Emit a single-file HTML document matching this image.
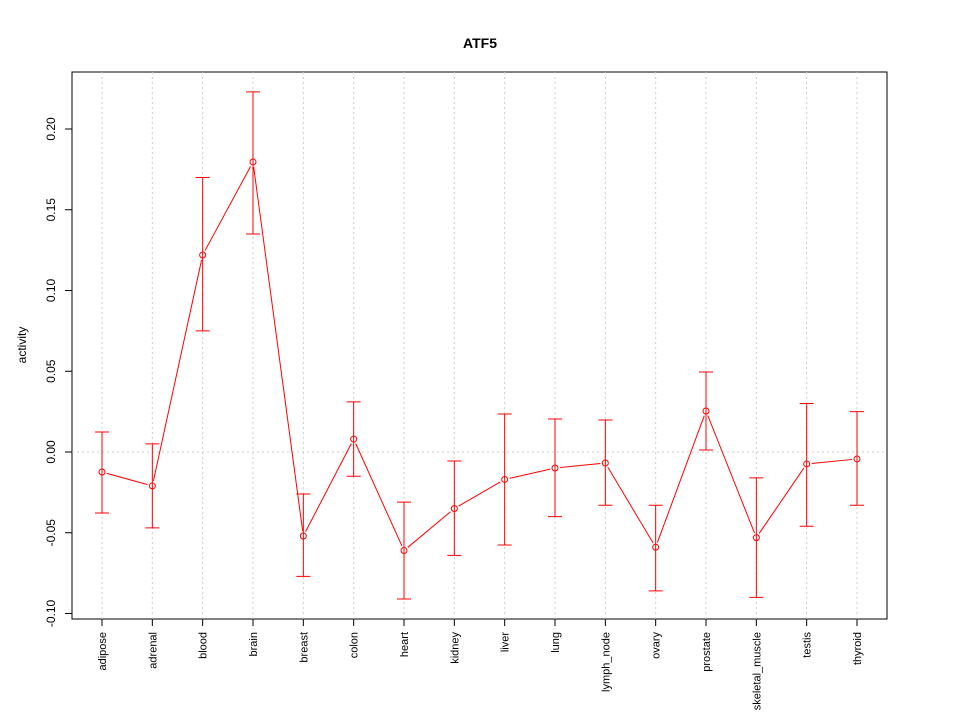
<!DOCTYPE html>
<html><head><meta charset="utf-8"><style>
body{margin:0;background:#fff}
svg{display:block;font-family:"Liberation Sans",sans-serif}
</style></head><body>
<svg id="c" width="960" height="720">
<text x="480" y="48" text-anchor="middle" font-weight="bold" font-size="14">ATF5</text>
<text transform="translate(26,345) rotate(-90)" text-anchor="middle" font-size="12">activity</text>
<rect x="72" y="72" width="815" height="547" fill="none" stroke="#000"/>
<g id="g"></g>
</svg>
<script>
const categories=["adipose","adrenal","blood","brain","breast","colon","heart","kidney","liver","lung","lymph_node","ovary","prostate","skeletal_muscle","testis","thyroid"];
const values=[-0.0124,-0.021,0.122,0.1796,-0.052,0.008,-0.061,-0.035,-0.017,-0.0099,-0.0068,-0.059,0.0254,-0.053,-0.0074,-0.0043];
const upper=[0.0124,0.005,0.170,0.223,-0.026,0.031,-0.031,-0.0056,0.0235,0.0204,0.0198,-0.033,0.0495,-0.016,0.030,0.025];
const lower=[-0.0378,-0.047,0.075,0.135,-0.077,-0.015,-0.091,-0.064,-0.0576,-0.040,-0.033,-0.086,0.0012,-0.090,-0.046,-0.033];
const yTicks=[-0.10,-0.05,0.00,0.05,0.10,0.15,0.20];
const yLabels=["-0.10","-0.05","0.00","0.05","0.10","0.15","0.20"];
const NS="http://www.w3.org/2000/svg";
const g=document.getElementById('g');
const y=v=>452-v*1615;
const x=i=>102+i*(857-102)/(categories.length-1);
function mk(t,a,p){const e=document.createElementNS(NS,t);for(const k in a)e.setAttribute(k,a[k]);(p||g).appendChild(e);return e;}
// grid
categories.forEach((c,i)=>{
 const l=mk('line',{x1:x(i),x2:x(i),y1:72,y2:619,stroke:'#ccc','stroke-dasharray':'2,3'});
 
 
});
const h=mk('line',{x1:72,x2:887,y1:y(0),y2:y(0),stroke:'#ccc','stroke-dasharray':'2,3'});


// y axis
yTicks.forEach((v,i)=>{
 const t=mk('line',{x1:65,x2:72,y1:y(v),y2:y(v),stroke:'#000'});
 
 
 const tx=mk('text',{transform:`translate(55,${y(v)}) rotate(-90)`,'text-anchor':'middle','font-size':12});
 tx.textContent=yLabels[i];
 
 
});
// x axis
categories.forEach((c,i)=>{
 const t=mk('line',{x1:x(i),x2:x(i),y1:619,y2:626,stroke:'#000'});
 
 
 const tx=mk('text',{transform:`translate(${x(i)+4},632) rotate(-90)`,'text-anchor':'end','font-size':11});
 tx.textContent=c;
 
 
});
// lines between points with gaps
for(let i=0;i<values.length-1;i++){
 const x1=x(i),y1=y(values[i]),x2=x(i+1),y2=y(values[i+1]);
 const d=Math.hypot(x2-x1,y2-y1),r=5;
 if(d<2*r)continue;
 const ux=(x2-x1)/d,uy=(y2-y1)/d;
 const l=mk('line',{x1:x1+ux*r,y1:y1+uy*r,x2:x2-ux*r,y2:y2-uy*r,stroke:'red'});
 
 
}
values.forEach((v,i)=>{
 const eb=mk('path',{d:`M${x(i)},${y(upper[i])}V${y(lower[i])}M${x(i)-7},${y(upper[i])}H${x(i)+7}M${x(i)-7},${y(lower[i])}H${x(i)+7}`,stroke:'red',fill:'none'});
 
 
 const p=mk('circle',{cx:x(i),cy:y(v),r:3,fill:'none',stroke:'red'});
 
 
});
</script>
</body></html>
